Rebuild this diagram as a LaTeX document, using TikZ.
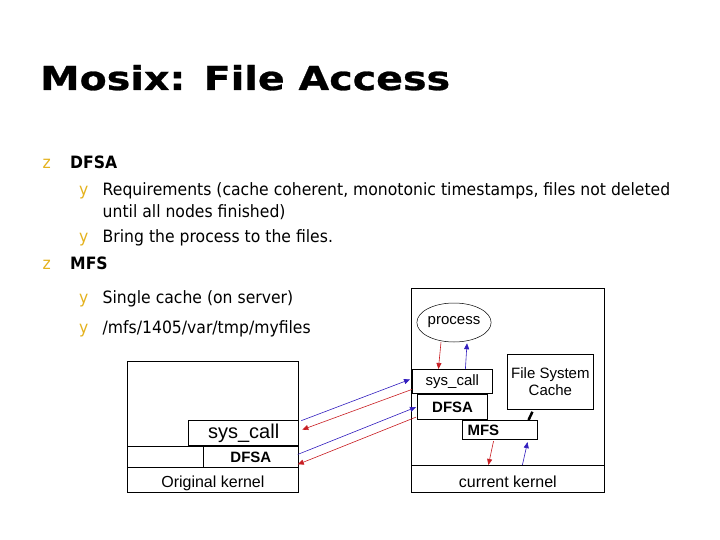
\documentclass[tikz,border=0pt]{standalone}
\usepackage{fontspec}
\setmainfont{Liberation Sans}
\newfontfamily\titlefont{DejaVu Sans}[FakeStretch=1.2, FakeBold=0.8]
\newfontfamily\bodyfont{DejaVu Sans}[FakeStretch=0.92]
\usetikzlibrary{shapes.geometric, arrows.meta, positioning, calc}
\usepackage{xcolor}
\definecolor{bulletGold}{RGB}{228,178,30}
\definecolor{callBlue}{RGB}{50,30,190}
\definecolor{callRed}{RGB}{200,30,35}
\tikzset{
    % Slide text
    slideTitle/.style={anchor=base west, inner sep=0pt, font=\titlefont\bfseries\fontsize{33}{36}\selectfont},
    bul/.style={anchor=base west, inner sep=0pt, text=bulletGold, font=\bodyfont\fontsize{17}{20}\selectfont},
    item/.style={anchor=base west, inner sep=0pt, font=\bodyfont\fontsize{17}{20}\selectfont},
    itemHead/.style={item, font=\bodyfont\bfseries\fontsize{17}{20}\selectfont},
    % Diagram boxes
    box/.style={draw, fill=white, line width=0.8pt, inner sep=0pt, anchor=north west, font=\fontsize{15}{17}\selectfont},
    thickBox/.style={box, line width=1.3pt},
    bold/.style={font=\bfseries\fontsize{15}{17}\selectfont},
    kernel/.style={box, font=\fontsize{16}{18}\selectfont, text depth=0pt},
    % Calls
    callTo/.style={-{Triangle[length=6pt,width=5pt]}, draw=callBlue, line width=0.6pt},
    callBack/.style={-{Triangle[length=6pt,width=5pt]}, draw=callRed, line width=0.6pt},
    link/.style={line width=2.5pt}
}

\begin{document}
\begin{tikzpicture}[x=1pt, y=-1pt]
\useasboundingbox (0,0) rectangle (720,540);

\node[slideTitle] (title) at (40,90) {Mosix: File Access};

% bullet list
\node[bul] (b1) at (42.5,169) {z};
\node[itemHead] (dfsaHead) at (70,169) {DFSA};
\node[bul] (b11) at (79,196) {y};
\node[item] (req) at (102.5,196) {Requirements (cache coherent, monotonic timestamps, files not deleted};
\node[item] (req2) at (102.5,218) {until all nodes finished)};
\node[bul] (b12) at (79,242) {y};
\node[item] (bring) at (102.5,242) {Bring the process to the files.};
\node[bul] (b2) at (42.5,269) {z};
\node[itemHead] (mfsHead) at (70,269) {MFS};
\node[bul] (b21) at (79,303) {y};
\node[item] (single) at (102.5,303) {Single cache (on server)};
\node[bul] (b22) at (79,333) {y};
\node[item] (path) at (102.5,333) {/mfs/1405/var/tmp/myfiles};

% home node
\node[box, minimum width=171pt, minimum height=131pt] (homeHost) at (127,361) {};
\node[thickBox, minimum width=110pt, minimum height=25pt, font=\fontsize{20}{22}\selectfont] (lsys) at (188,420) {sys\_call};
\node[box, minimum width=76pt, minimum height=21pt] (lblank) at (127,446) {};
\node[box, bold, minimum width=95pt, minimum height=21pt] (ldfsa) at (203,446) {DFSA};
\node[kernel, text height=15pt, minimum width=171pt, minimum height=25pt] (lkern) at (127,467) {Original kernel};

% remote node
\node[box, minimum width=193pt, minimum height=204pt] (remHost) at (411,288) {};
\node[draw, ellipse, line width=0.5pt, inner sep=0pt, minimum width=65pt, minimum height=39pt, font=\fontsize{15}{17}\selectfont] (process) at (454,322.5) {process};
\node[box, minimum width=80pt, minimum height=24pt] (rsys) at (412,369) {sys\_call};
\node[thickBox, bold, minimum width=70pt, minimum height=25pt] (rdfsa) at (417,394) {DFSA};
\node[box, bold, line width=1.1pt, minimum width=75pt, minimum height=19pt, text width=65pt, inner xsep=5pt, align=left] (mfs) at (462,420) {MFS};
\node[box, minimum width=86pt, minimum height=55pt, align=center] (cache) at (507,354) {File System\\Cache};
\node[kernel, text height=17pt, minimum width=193pt, minimum height=27pt] (rkern) at (411,465) {current kernel};

% calls between nodes
\draw[callTo] ([shift={(2,-12.5)}]lsys.east) -- ([shift={(-2,-2)}]rsys.west);
\draw[callBack] ([shift={(0,8)}]rsys.west) -- ([shift={(3,-3.5)}]lsys.east);
\draw[callTo] ([shift={(-1,-2.5)}]ldfsa.east) -- ([shift={(-1,0)}]rdfsa.west);
\draw[callBack] ([shift={(-1,10)}]rdfsa.west) -- ([shift={(-1,7.5)}]ldfsa.east);

% calls inside the remote node
\draw[callBack] ([shift={(-13,0)}]process.south) -- ([shift={(-14,0)}]rsys.north);
\draw[callTo] ([shift={(13,0)}]rsys.north) -- ([shift={(13,1)}]process.south);
\draw[callBack] ([shift={(-6.5,1)}]mfs.south) -- ([shift={(-19.5,0)}]rkern.north);
\draw[callTo] ([shift={(14.5,0)}]rkern.north) -- ([shift={(27.5,2)}]mfs.south);
\draw[link] ([shift={(-18,2)}]cache.south) -- ([shift={(28.5,0)}]mfs.north);

\end{tikzpicture}
\end{document}
